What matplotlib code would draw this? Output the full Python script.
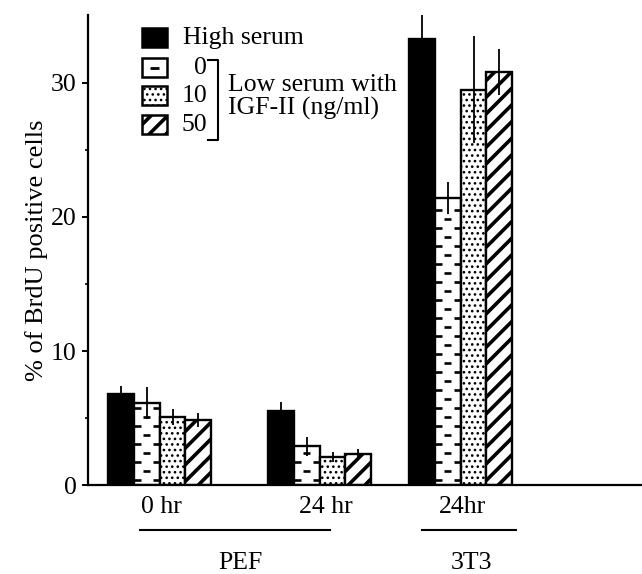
"""BrdU incorporation in PEF and 3T3 cells: high serum vs low serum + IGF-II."""

import matplotlib

matplotlib.use("Agg")
import matplotlib.pyplot as plt
from matplotlib.patches import Rectangle

plt.rcParams["font.family"] = ["Liberation Serif", "DejaVu Serif"]
plt.rcParams["font.size"] = 18.5
plt.rcParams["hatch.color"] = "black"

# --- data ---
groups = ["0 hr", "24 hr", "24hr"]
cells = ["PEF", "3T3"]
series = ["High serum", "0", "10", "50"]
high_serum = [6.8, 5.5, 33.3]
high_serum_err = [0.6, 0.7, 1.8]
igf_0 = [6.1, 2.9, 21.4]
igf_0_err = [1.2, 0.7, 1.2]
igf_10 = [5.1, 2.1, 29.5]
igf_10_err = [0.6, 0.4, 4.0]
igf_50 = [4.85, 2.3, 30.8]
igf_50_err = [0.55, 0.4, 1.7]

values = [high_serum, igf_0, igf_10, igf_50]
errors = [high_serum_err, igf_0_err, igf_10_err, igf_50_err]

# --- layout (pixel geometry of the original) ---
W, H = 642, 574
AX_L, AX_R, AX_B, AX_T = 88, 642, 485, 15
PX_PER_UNIT = 13.4
BAR_W = 25.8
GROUP_LEFT = [20, 180, 321]  # px from the y axis

fig = plt.figure(figsize=(W / 100, H / 100), dpi=100)
ax = fig.add_axes([AX_L / W, (H - AX_B) / H, (AX_R - AX_L) / W, (AX_B - AX_T) / H])
ax.set_xlim(0, AX_R - AX_L)
ax.set_ylim(0, (AX_B - AX_T) / PX_PER_UNIT)


def px(x, y):
    """image pixel -> data coords"""
    return x - AX_L, (AX_B - y) / PX_PER_UNIT


def brick_dashes(x0, w, top, step=9 / PX_PER_UNIT):
    k = 0
    y = step * 0.6
    while y < top - step * 0.3:
        if k % 2 == 0:
            segs = [(x0, x0 + 0.27 * w), (x0 + 0.73 * w, x0 + w)]
        else:
            segs = [(x0 + 0.36 * w, x0 + 0.64 * w)]
        for a, b in segs:
            ax.plot([a, b], [y, y], color="black", lw=1.9, solid_capstyle="butt", zorder=3)
        y += step
        k += 1


styles = [
    dict(color="black", hatch=None),
    dict(color="white", hatch=None),
    dict(color="white", hatch="..."),
    dict(color="white", hatch="//"),
]
hatch_lw = [1.0, 1.0, 1.1, 2.6]

for s, (vals, errs) in enumerate(zip(values, errors)):
    xs = [g + s * BAR_W for g in GROUP_LEFT]
    with plt.rc_context({"hatch.linewidth": hatch_lw[s]}):
        bars = ax.bar(xs, vals, width=BAR_W, align="edge", color=styles[s]["color"],
                      hatch=styles[s]["hatch"], edgecolor="black", linewidth=1.7, zorder=2)
    if s == 1:
        for x0, v in zip(xs, vals):
            brick_dashes(x0, BAR_W, v)
    ax.errorbar([x + BAR_W / 2 for x in xs], vals, yerr=errs, fmt="none",
                ecolor="black", elinewidth=1.3, capsize=0, zorder=4)

# axes styling
for side in ("top", "right"):
    ax.spines[side].set_visible(False)
ax.spines["left"].set_linewidth(1.6)
ax.spines["bottom"].set_linewidth(1.6)
ax.set_xticks([])
ax.set_yticks([0, 10, 20, 30])
ax.set_yticks([5, 15, 25], minor=True)
ax.tick_params(axis="y", which="major", length=4, width=1.4, pad=4)
ax.tick_params(axis="y", which="minor", length=2, width=1.2)
ax.set_ylabel("% of BrdU positive cells", fontsize=19, labelpad=2)

# legend drawn by hand (with the bracket)
box_w, box_h = 25, 19
legend_rows = [(38, "black", None), (68, "white", None), (96, "white", "..."), (125, "white", "//")]
for s, (cy, fc, ht) in enumerate(legend_rows):
    x0, y0 = px(142, cy + box_h / 2)
    with plt.rc_context({"hatch.linewidth": hatch_lw[s]}):
        ax.add_patch(Rectangle((x0, y0), box_w, box_h / PX_PER_UNIT, facecolor=fc,
                               hatch=ht, edgecolor="black", linewidth=1.8, clip_on=False))
    if s == 1:
        a, yy = px(150, cy)
        b, _ = px(159, cy)
        ax.plot([a, b], [yy, yy], color="black", lw=2, solid_capstyle="butt")

ax.text(*px(183, 38), series[0], ha="left", va="center")
for cy, lab in zip([68, 96, 125], series[1:]):
    ax.text(*px(207, cy), lab, ha="right", va="center")
bx = [208, 218, 218, 208]
by = [60, 60, 140, 140]
ax.plot([px(x, y)[0] for x, y in zip(bx, by)], [px(x, y)[1] for x, y in zip(bx, by)],
        color="black", lw=1.5, clip_on=False)
ax.text(*px(228, 85), "Low serum with", ha="left", va="center")
ax.text(*px(228, 108), "IGF-II (ng/ml)", ha="left", va="center")

# group labels below the axis
for g, lab, cx in zip(GROUP_LEFT, groups, [161, 326, 463]):
    ax.text(*px(cx, 507), lab, ha="center", va="center", clip_on=False)
for (x1, x2), lab, cx in zip([(140, 330), (422, 516)], cells, [240, 472]):
    a, yy = px(x1, 530)
    b, _ = px(x2, 530)
    ax.plot([a, b], [yy, yy], color="black", lw=1.5, clip_on=False)
    ax.text(*px(cx, 563), lab, ha="center", va="center", clip_on=False)

fig.savefig("out.png", dpi=100)
